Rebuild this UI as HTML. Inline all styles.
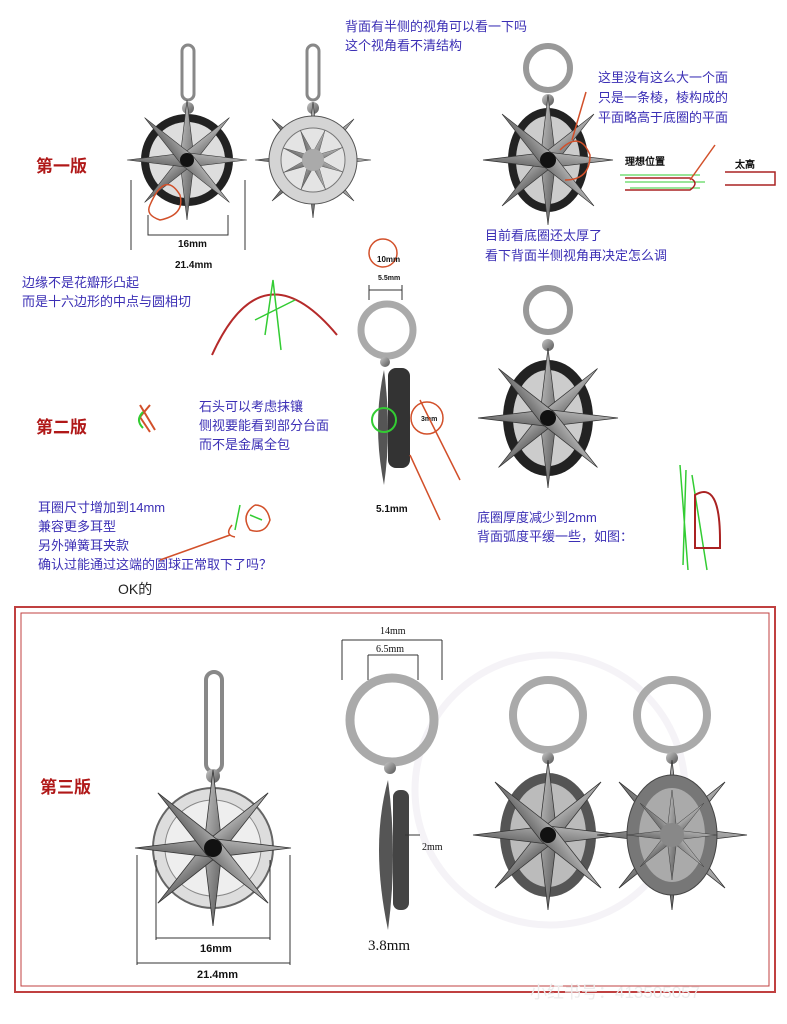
<!DOCTYPE html>
<html><head><meta charset="utf-8"><style>
body{margin:0;background:#fff}
svg{display:block}
.t{font-family:"Liberation Sans","Noto Sans CJK SC",sans-serif;font-size:13px;fill:#3b2fb5}
.r{font-family:"Liberation Sans","Noto Sans CJK SC",sans-serif;font-size:17px;font-weight:bold;fill:#b01818}
.d{font-family:"Liberation Sans",sans-serif;font-size:10px;font-weight:bold;fill:#111}
</style></head><body>
<svg width="787" height="1024" viewBox="0 0 787 1024" xmlns="http://www.w3.org/2000/svg">
<defs>
<linearGradient id="g" x1="0" y1="0" x2="1" y2="1"><stop offset="0" stop-color="#c8c8c8"/><stop offset="1" stop-color="#555"/></linearGradient>
<polygon id="dm" points="0,-1 0.12,0 0,1 -0.12,0" fill="url(#g)" stroke="#333" stroke-width="0.01"/>
<g id="star"><use href="#dm"/><use href="#dm" transform="rotate(45)"/><use href="#dm" transform="rotate(90)"/><use href="#dm" transform="rotate(135)"/></g>
</defs>
<rect width="787" height="1024" fill="#fff"/>
<text class="t" x="345" y="31">背面有半侧的视角可以看一下吗</text>
<text class="t" x="345" y="50">这个视角看不清结构</text>
<text class="t" x="598" y="82">这里没有这么大一个面</text>
<text class="t" x="598" y="102">只是一条棱，棱构成的</text>
<text class="t" x="598" y="122">平面略高于底圈的平面</text>
<text class="r" x="36" y="172">第一版</text>
<text class="t" x="485" y="240">目前看底圈还太厚了</text>
<text class="t" x="485" y="260">看下背面半侧视角再决定怎么调</text>
<text class="t" x="22" y="287">边缘不是花瓣形凸起</text>
<text class="t" x="22" y="306">而是十六边形的中点与圆相切</text>
<rect x="182" y="45" width="12" height="55" rx="6" fill="none" stroke="#888" stroke-width="3"/>
<circle cx="188" cy="108" r="6" fill="url(#g)"/>
<circle cx="187" cy="160" r="46" fill="#222"/><circle cx="187" cy="160" r="38" fill="#ddd"/>
<use href="#star" transform="translate(187,160) scale(60)"/>
<circle cx="187" cy="160" r="7" fill="#111"/>
<path d="M131 180V250M245 180V250M148 215V235H228V215" stroke="#333" fill="none"/>
<text class="d" x="178" y="247">16mm</text><text class="d" x="175" y="268">21.4mm</text>
<path d="M150 205q15-35 30-10q5 20-20 25q-15-5-10-15" stroke="#d2502a" fill="none" stroke-width="1.5"/>
<rect x="307" y="45" width="12" height="55" rx="6" fill="none" stroke="#888" stroke-width="3"/>
<circle cx="313" cy="108" r="6" fill="url(#g)"/>
<use href="#star" transform="translate(313,160) scale(58)"/>
<circle cx="313" cy="160" r="44" fill="#d4d4d4" stroke="#555"/><circle cx="313" cy="160" r="32" fill="#e4e4e4" stroke="#777"/>
<use href="#star" transform="translate(313,160) scale(32) rotate(22)"/>
<circle cx="313" cy="160" r="11" fill="#aaa"/>
<circle cx="548" cy="68" r="22" fill="none" stroke="#999" stroke-width="6"/>
<circle cx="548" cy="100" r="6" fill="url(#g)"/>
<ellipse cx="548" cy="160" rx="40" ry="52" fill="#222"/><ellipse cx="548" cy="160" rx="32" ry="44" fill="#ccc"/>
<use href="#star" transform="translate(548,160) scale(65)"/>
<circle cx="548" cy="160" r="8" fill="#111"/>
<path d="M560 150q20-20 30 5q0 25-25 25" stroke="#d2502a" fill="none" stroke-width="1.5"/>
<path d="M586 92L572 140" stroke="#d2502a" stroke-width="1.5"/>
<text class="d" x="625" y="165">理想位置</text><text class="d" x="735" y="168">太高</text>
<path d="M620 175H700M625 182H705M630 188H700" stroke="#3c3" fill="none"/>
<path d="M625 178H690q10 5 0 12H625" stroke="#a22" fill="none" stroke-width="1.5"/>
<path d="M725 172H775V185H725" stroke="#a22" fill="none" stroke-width="1.5"/>
<path d="M690 180l25-35" stroke="#d2502a" stroke-width="1.5"/>
<path d="M212 355q50-110 125 -20" stroke="#b52a2a" fill="none" stroke-width="2"/>
<path d="M265 335l8-55l8 70M255 320l40-20" stroke="#3c3" fill="none" stroke-width="1.5"/>
<text class="r" x="36" y="433">第二版</text>
<path d="M140 405l15 25M150 405l-10 12l10 15" stroke="#d2502a" fill="none" stroke-width="2"/>
<path d="M143 412q-8 8 0 16" stroke="#3c3" fill="none" stroke-width="2"/>
<text class="t" x="199" y="411">石头可以考虑抹镶</text>
<text class="t" x="199" y="430">侧视要能看到部分台面</text>
<text class="t" x="199" y="449">而不是金属全包</text>
<circle cx="383" cy="253" r="14" fill="none" stroke="#d2502a" stroke-width="1.5"/>
<text class="d" x="377" y="262" style="font-size:8px">10mm</text>
<text class="d" x="378" y="280" style="font-size:7px">5.5mm</text>
<path d="M369 285V300M402 285V300M369 290H402" stroke="#333" fill="none"/>
<circle cx="387" cy="330" r="26" fill="none" stroke="#aaa" stroke-width="7"/>
<circle cx="385" cy="362" r="5" fill="url(#g)"/>
<path d="M384 370q-12 55 0 115q8-55 0-115z" fill="#555"/>
<rect x="388" y="368" width="22" height="100" rx="8" fill="#333"/>
<circle cx="384" cy="420" r="12" fill="none" stroke="#3c3" stroke-width="2"/>
<circle cx="427" cy="418" r="16" fill="none" stroke="#d2502a" stroke-width="1.5"/>
<text class="d" x="421" y="421" style="font-size:7px">3mm</text>
<path d="M410 455l30 65M420 400l40 80" stroke="#d2502a" stroke-width="1.5"/>
<text class="d" x="376" y="512">5.1mm</text>
<circle cx="548" cy="310" r="22" fill="none" stroke="#999" stroke-width="6"/>
<circle cx="548" cy="345" r="6" fill="url(#g)"/>
<ellipse cx="548" cy="418" rx="45" ry="58" fill="#222"/><ellipse cx="548" cy="418" rx="35" ry="48" fill="#ccc"/>
<use href="#star" transform="translate(548,418) scale(70)"/>
<circle cx="548" cy="418" r="8" fill="#111"/>
<text class="t" x="477" y="522">底圈厚度减少到2mm</text>
<text class="t" x="477" y="541">背面弧度平缓一些，如图：</text>
<path d="M680 465l8 105M686 470l-3 95M692 475l15 95" stroke="#3c3" fill="none" stroke-width="1.5"/>
<path d="M695 495q25-15 25 45v8h-25z" stroke="#a22" fill="none" stroke-width="2"/>
<text class="t" x="38" y="512">耳圈尺寸增加到14mm</text>
<text class="t" x="38" y="531">兼容更多耳型</text>
<text class="t" x="38" y="550">另外弹簧耳夹款</text>
<text class="t" x="38" y="569">确认过能通过这端的圆球正常取下了吗？</text>
<text x="118" y="594" style="font-family:'Liberation Sans','Noto Sans CJK SC',sans-serif;font-size:14px;fill:#222">OK的</text>
<path d="M160 560l70-25M232 525q-8 10 3 12M255 505q-15 10-5 25q15 5 20-10q-3-15-15-15" stroke="#d2502a" fill="none" stroke-width="1.5"/>
<path d="M240 505l-5 25M250 515l12 5" stroke="#3c3" fill="none" stroke-width="1.5"/>
<rect x="15" y="607" width="760" height="385" fill="none" stroke="#c04040" stroke-width="2"/>
<rect x="21" y="613" width="748" height="373" fill="none" stroke="#c04040" stroke-width="1"/>
<circle cx="550" cy="790" r="135" fill="none" stroke="#f5f3f7" stroke-width="7"/>
<text class="r" x="40" y="793">第三版</text>
<rect x="206" y="672" width="16" height="100" rx="8" fill="none" stroke="#888" stroke-width="4"/>
<circle cx="213" cy="776" r="7" fill="url(#g)"/>
<circle cx="213" cy="848" r="60" fill="#ddd" stroke="#666" stroke-width="2"/><circle cx="213" cy="848" r="48" fill="#eee" stroke="#888"/>
<use href="#star" transform="translate(213,848) scale(78)"/>
<circle cx="213" cy="848" r="9" fill="#111"/>
<path d="M137 855V965M290 855V965M156 860V940M270 860V940M156 938H270M137 963H290" stroke="#333" fill="none"/>
<text class="d" x="200" y="952" style="font-size:11px">16mm</text><text class="d" x="197" y="978" style="font-size:11px">21.4mm</text>
<text class="d" x="380" y="634" style="font-family:'Liberation Serif',serif;font-weight:normal">14mm</text>
<path d="M342 640V680M442 640V680M342 640H442M368 655V680M418 655V680M368 655H418" stroke="#333" fill="none"/>
<text class="d" x="376" y="652" style="font-family:'Liberation Serif',serif;font-weight:normal">6.5mm</text>
<circle cx="392" cy="720" r="42" fill="none" stroke="#aaa" stroke-width="9"/>
<circle cx="390" cy="768" r="6" fill="url(#g)"/>
<path d="M388 780q-18 65 0 150q10-75 0-150z" fill="#555"/>
<rect x="393" y="790" width="16" height="120" rx="7" fill="#444"/>
<path d="M405 835H420" stroke="#333"/>
<text class="d" x="422" y="850" style="font-family:'Liberation Serif',serif;font-weight:normal">2mm</text>
<text x="368" y="950" style="font-family:'Liberation Serif',serif;font-size:15px;fill:#111">3.8mm</text>
<circle cx="548" cy="715" r="35" fill="none" stroke="#aaa" stroke-width="8"/>
<circle cx="548" cy="758" r="6" fill="url(#g)"/>
<ellipse cx="548" cy="835" rx="48" ry="62" fill="#555"/><ellipse cx="548" cy="835" rx="38" ry="52" fill="#bbb"/>
<use href="#star" transform="translate(548,835) scale(75)"/>
<circle cx="548" cy="835" r="8" fill="#111"/>
<circle cx="672" cy="715" r="35" fill="none" stroke="#aaa" stroke-width="8"/>
<circle cx="672" cy="758" r="6" fill="url(#g)"/>
<use href="#star" transform="translate(672,835) scale(75)"/>
<ellipse cx="672" cy="835" rx="45" ry="60" fill="#777" stroke="#444"/><ellipse cx="672" cy="835" rx="33" ry="47" fill="#aaa"/>
<use href="#star" transform="translate(672,835) scale(45)"/>
<circle cx="672" cy="835" r="12" fill="#888"/>
<text x="530" y="998" style="font-family:'Liberation Sans','Noto Sans CJK SC',sans-serif;font-size:17px;fill:#ececec">小红书号：413505057</text>
</svg>
</body></html>
